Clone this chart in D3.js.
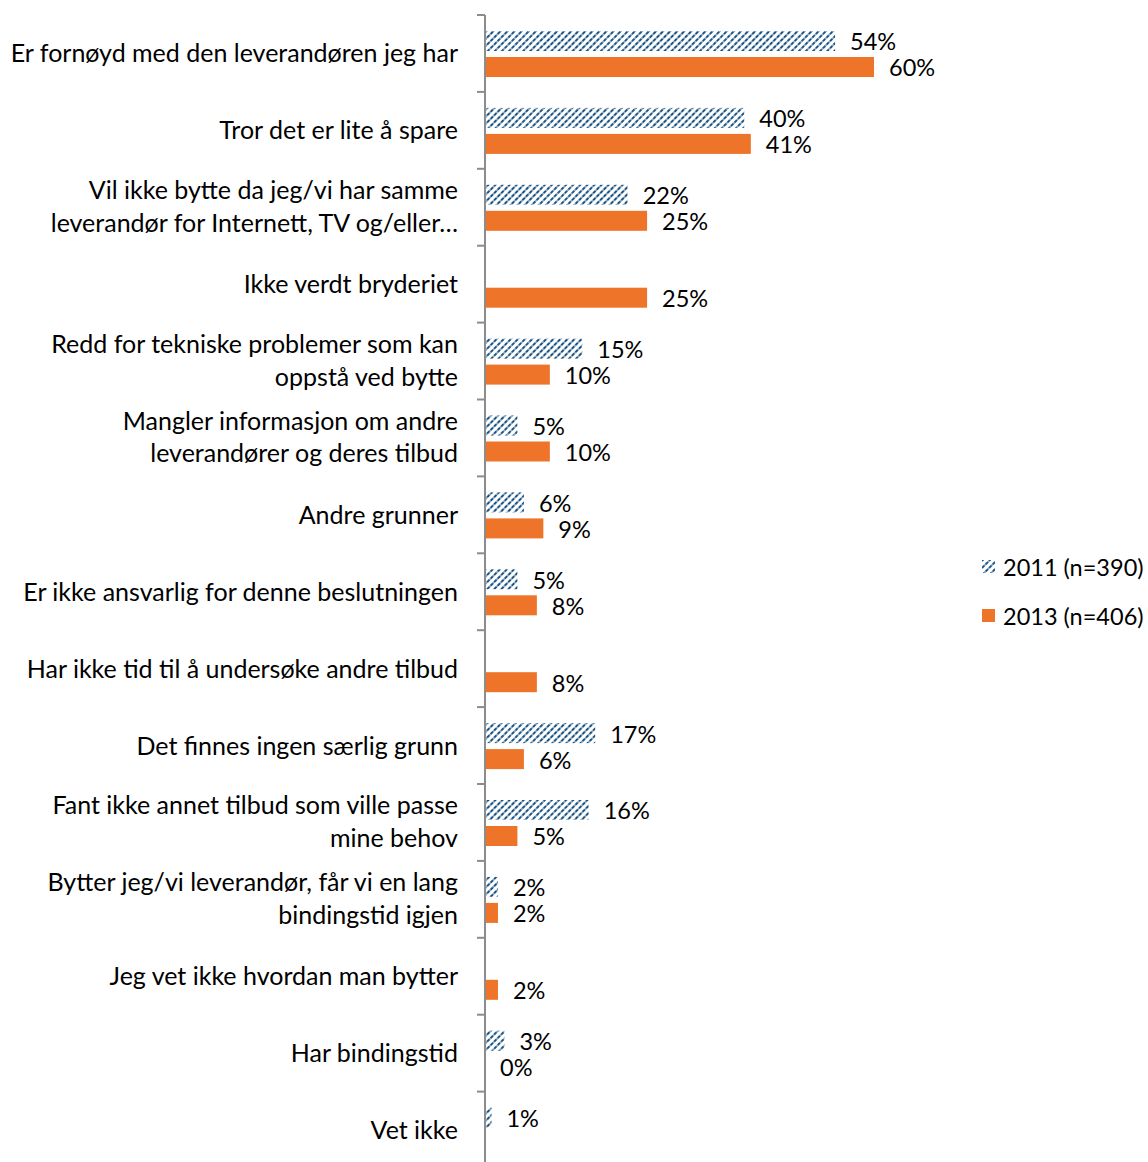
<!DOCTYPE html>
<html><head><meta charset="utf-8">
<script src="https://cdn.jsdelivr.net/npm/d3@7"></script>
<style>body{margin:0;background:#fff;} svg{display:block;}</style>
</head><body>
<svg id="chart" width="1148" height="1162"></svg>
<script>
const categories = [
  "Er fornøyd med den leverandøren jeg har",
  "Tror det er lite å spare",
  "Vil ikke bytte da jeg/vi har samme|leverandør for Internett, TV og/eller…",
  "Ikke verdt bryderiet",
  "Redd for tekniske problemer som kan|oppstå ved bytte",
  "Mangler informasjon om andre|leverandører og deres tilbud",
  "Andre grunner",
  "Er ikke ansvarlig for denne beslutningen",
  "Har ikke tid til å undersøke andre tilbud",
  "Det finnes ingen særlig grunn",
  "Fant ikke annet tilbud som ville passe|mine behov",
  "Bytter jeg/vi leverandør, får vi en lang|bindingstid igjen",
  "Jeg vet ikke hvordan man bytter",
  "Har bindingstid",
  "Vet ikke"
];
const values2011 = [54, 40, 22, null, 15, 5, 6, 5, null, 17, 16, 2, null, 3, 1];
const values2013 = [60, 41, 25, 25, 10, 10, 9, 8, 8, 6, 5, 2, 2, 0, null];
const seriesNames = ["2011 (n=390)", "2013 (n=406)"];

(function(){
const svg = d3.select("#chart");
const FONT = "Lato, 'Open Sans', sans-serif";
const axisX = 485, plotTop = 15, plotBottom = 1162, bw = 76.9;
const x = d3.scaleLinear().domain([0, 60]).range([axisX, axisX + 389]);
const y = d3.scaleBand().domain(categories.map((c,i)=>i)).range([plotTop, plotTop + bw*15]);

const defs = svg.append("defs");
const pat = defs.append("pattern").attr("id","hatch").attr("patternUnits","userSpaceOnUse")
  .attr("width",5).attr("height",5).attr("patternTransform","rotate(45)");
pat.append("rect").attr("width",5).attr("height",5).attr("fill","#fff");
pat.append("line").attr("x1",1).attr("y1",0).attr("x2",1).attr("y2",5)
  .attr("stroke","#1A5485").attr("stroke-width",2).attr("stroke-dasharray","2.5 1");

const barH = 20;
const colors = ["url(#hatch)", "#ED7428"];
const series = [values2011, values2013];

series.forEach((vals, s) => {
  const off = s === 0 ? 16 : 42;
  const g = svg.append("g");
  vals.forEach((v, i) => {
    if (v === null) return;
    const yy = y(i) + off;
    g.append("rect").attr("x", x(0)).attr("y", yy).attr("width", x(v) - x(0)).attr("height", barH)
      .attr("fill", colors[s]);
    g.append("text").attr("x", x(v) + 15).attr("y", yy + barH/2).attr("dy", "0.4em")
      .attr("font-family", FONT).attr("font-size", 23.5).attr("fill", "#000").text(v + "%");
  });
});

const ax = svg.append("g");
ax.append("line").attr("x1", axisX).attr("x2", axisX).attr("y1", plotTop).attr("y2", plotBottom)
  .attr("stroke", "#8c8c8c").attr("stroke-width", 2);
categories.forEach((c, i) => {
  ax.append("line").attr("x1", axisX - 8).attr("x2", axisX).attr("y1", y(i)).attr("y2", y(i))
    .attr("stroke", "#8c8c8c").attr("stroke-width", 2);
});

categories.forEach((c, i) => {
  const lines = c.split("|");
  const cy = y(i) + y.bandwidth()/2;
  const t = svg.append("text").attr("text-anchor", "end").attr("font-family", FONT)
    .attr("font-size", 25).attr("fill", "#000");
  lines.forEach((ln, k) => {
    const yy = lines.length === 1 ? cy : cy - 17 + k * 32.5;
    t.append("tspan").attr("x", 458).attr("y", yy).attr("dy", "0.36em").text(ln);
  });
});

const lg = svg.append("g");
seriesNames.forEach((n, s) => {
  const yy = 567 + s * 49;
  lg.append("rect").attr("x", 982).attr("y", yy - 7).attr("width", 13).attr("height", 13).attr("fill", colors[s]);
  lg.append("text").attr("x", 1003).attr("y", yy).attr("dy", "0.38em")
    .attr("font-family", FONT).attr("font-size", 23.5).attr("fill", "#000").text(n);
});
})();
</script>
</body></html>
